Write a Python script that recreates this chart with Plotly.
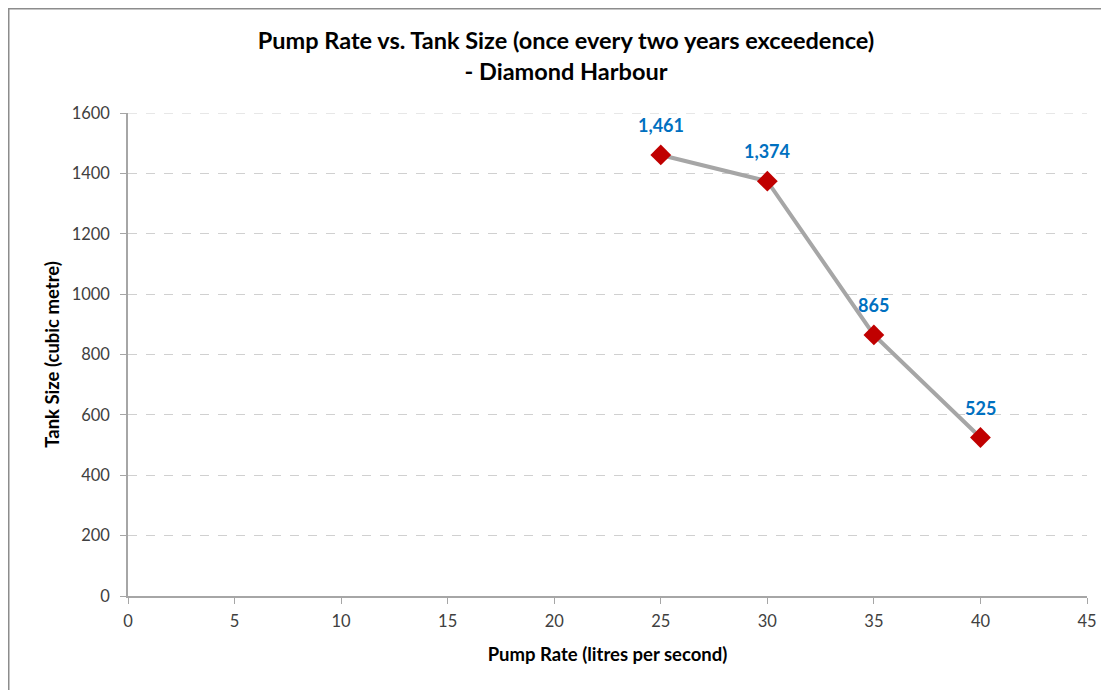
import plotly.graph_objects as go

pump_rate = [25, 30, 35, 40]
tank_size = [1461, 1374, 865, 525]
labels = ["1,461", "1,374", "865", "525"]

FONT = "Lato, Calibri, Carlito, sans-serif"
Y_MAX = 1600
X_MAX = 45

# Page body has an 8px default margin, so the figure is sized to fit the window
W, H = 1101, 682
L, T = 120, 105
PW, PH = 959, 483

fig = go.Figure()
fig.add_trace(go.Scatter(
    x=pump_rate, y=tank_size, mode="lines+markers",
    line=dict(color="#a6a6a6", width=4),
    marker=dict(symbol="diamond", size=16, color="#c00000"),
    cliponaxis=False, showlegend=False,
))

for xv, yv, lab in zip(pump_rate, tank_size, labels):
    fig.add_annotation(x=xv, y=yv, text="<b>%s</b>" % lab, showarrow=False,
                       yshift=30, font=dict(family=FONT, size=18, color="#0070c0"))

fig.update_layout(
    width=W, height=H,
    margin=dict(l=L, r=W - L - PW, t=T, b=H - T - PH),
    paper_bgcolor="white", plot_bgcolor="white",
    font=dict(family=FONT, size=16, color="#404040"),
    title=dict(
        text="<b>Pump Rate vs. Tank Size (once every two years exceedence)<br>- Diamond Harbour</b>",
        x=(566 - 8) / W, xanchor="center", y=1 - 41 / H, yanchor="middle",
        font=dict(family=FONT, size=23.5, color="#000000"),
    ),
    xaxis=dict(
        range=[0, X_MAX], tickmode="linear", tick0=0, dtick=5,
        showline=True, linecolor="#a6a6a6", linewidth=1.5,
        ticks="outside", ticklen=6, tickcolor="#a6a6a6",
        showgrid=False, zeroline=False, ticklabelstandoff=3,
        tickfont=dict(family=FONT, size=16.5, color="#404040"),
        title=dict(text="<b>Pump Rate (litres per second)</b>",
                   font=dict(family=FONT, size=18.5, color="#000000"), standoff=19),
    ),
    yaxis=dict(
        range=[0, Y_MAX], tickmode="linear", tick0=0, dtick=200,
        showline=True, linecolor="#a6a6a6", linewidth=1.5,
        ticks="outside", ticklen=6, tickcolor="#a6a6a6",
        showgrid=True, gridcolor="#d0d0d0", griddash="dash", gridwidth=1,
        zeroline=False, ticklabelstandoff=7,
        tickfont=dict(family=FONT, size=16.5, color="#404040"),
        title=dict(text="<b>Tank Size (cubic metre)</b>",
                   font=dict(family=FONT, size=18.5, color="#000000"), standoff=7),
    ),
    shapes=[
        dict(type="rect", xref="paper", yref="paper",
             x0=(0 - L) / PW, x1=1.2, y0=-0.4, y1=(T + PH) / PH,
             line=dict(color="#8c8c8c", width=3), layer="below"),
        # top gridline (plotly hides the grid line on the plot edge)
        dict(type="line", xref="paper", yref="y", x0=0, x1=1, y0=Y_MAX, y1=Y_MAX,
             line=dict(color="#d0d0d0", width=1, dash="dash"), layer="below"),
    ],
)

fig.write_html("out.html")
